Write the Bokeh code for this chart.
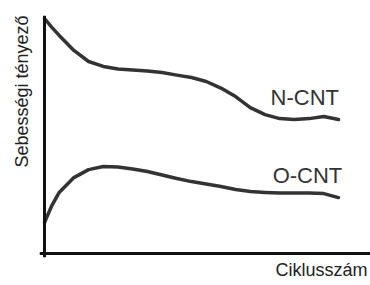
from bokeh.plotting import figure
from bokeh.models import Range1d, ColumnDataSource, Span, Title
from bokeh.core.properties import value
from bokeh.embed import file_html
from bokeh.resources import INLINE

# cycle number (arbitrary units)
cycles = [0, 0.25, 0.5, 1, 1.5, 2, 2.5, 3, 3.5, 4, 4.5, 5, 5.5, 6, 6.5, 7, 7.5, 8, 8.5, 9, 9.5, 10]
# rate factor (arbitrary units)
n_cnt = [1.000, 0.962, 0.928, 0.864, 0.817, 0.796, 0.785, 0.781, 0.777, 0.770, 0.759, 0.749,
         0.732, 0.704, 0.668, 0.621, 0.591, 0.574, 0.570, 0.574, 0.583, 0.570]
o_cnt = [0.132, 0.204, 0.260, 0.323, 0.357, 0.370, 0.368, 0.360, 0.349, 0.334, 0.319, 0.306,
         0.296, 0.285, 0.272, 0.264, 0.260, 0.257, 0.257, 0.257, 0.255, 0.238]
series_names = ["N-CNT", "O-CNT"]
label_x = [7.69, 7.76]
label_y = [0.662, 0.330]
x_title = "Ciklusszám"
y_title = "Sebességi tényező"

FONT = "Liberation Sans"

p = figure(width=370, height=285, x_range=Range1d(-0.170, 11.088), y_range=Range1d(-0.017, 1.0128),
           output_backend="svg", toolbar_location=None,
           x_axis_location=None, y_axis_location=None,
           min_border_left=39, min_border_right=0, min_border_top=15, min_border_bottom=28)
p.outline_line_color = None
p.grid.visible = False
p.background_fill_color = "white"
p.border_fill_color = "white"

p.add_layout(Title(text=x_title, align="right", offset=3, standoff=1, text_font=FONT,
                   text_font_size="18px", text_font_style="normal", text_color="#222222"), "below")
p.add_layout(Title(text=y_title, align="right", offset=0, standoff=15, text_font=FONT,
                   text_font_size="18px", text_font_style="normal", text_color="#222222"), "left")

# axis lines through the origin
p.add_layout(Span(location=0, dimension="height", line_width=3, line_color="#111111"))
p.add_layout(Span(location=0, dimension="width", line_width=3, line_color="#111111"))

src = ColumnDataSource(dict(x=cycles, n=n_cnt, o=o_cnt))
for col in ("n", "o"):
    p.line("x", col, source=src, line_width=3.5, line_color="#333333",
           line_join="round", line_cap="round")

p.text(x=label_x, y=label_y, text=series_names, text_font=value(FONT),
       text_font_size="22px", text_color="#333333", text_align="left",
       text_baseline="alphabetic")

open("out.html", "w").write(file_html(p, INLINE))
